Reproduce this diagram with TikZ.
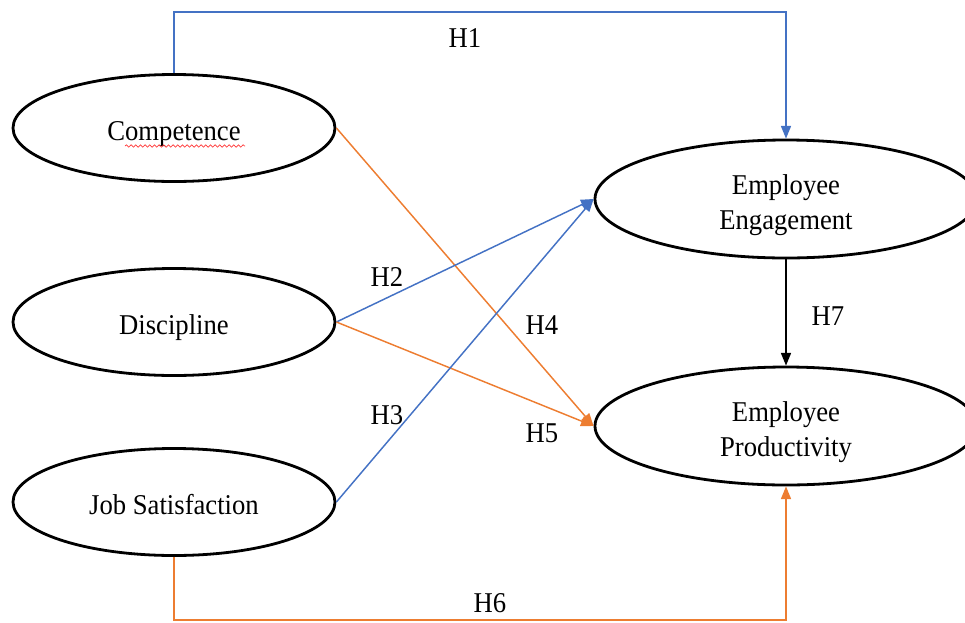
\documentclass[tikz,border=0pt]{standalone}
\usepackage{fontspec}
\setmainfont{Liberation Serif}[FakeStretch=0.93]
\usetikzlibrary{arrows.meta,shapes.geometric,decorations.pathmorphing}
\definecolor{myblue}{HTML}{4472C4}
\definecolor{myorange}{HTML}{ED7D31}
\begin{document}
\begin{tikzpicture}[x=0.75pt,y=-0.75pt,
  latent/.style={ellipse,draw,line width=2.1pt,inner sep=0pt,align=center,
    font=\fontsize{21.5}{26.25}\selectfont},
  leftvar/.style={latent,minimum width=241.5pt,minimum height=80.25pt,
    text height=18pt,text depth=0pt},
  rightvar/.style={latent,minimum width=286.5pt,minimum height=88.5pt,
    text height=45pt,text depth=0pt},
  lbl/.style={font=\fontsize{21.5}{24}\selectfont,inner sep=0pt},
  hyp/.style={line width=1.1pt,-{Triangle[length=9.5pt,width=7.5pt]}}
]
\clip (0,0) rectangle (965,622);
\node[leftvar] (comp) at (174,128) {Competence};
\node[leftvar] (disc) at (174,322) {Discipline};
\node[leftvar] (js) at (174,502) {Job Satisfaction};
\node[rightvar] (eng) at (786,199) {Employee\\Engagement};
\node[rightvar] (prod) at (786,426) {Employee\\Productivity};

\coordinate (top) at (480,12);
\coordinate (bot) at (480,620);

\draw[hyp,myblue] (comp.north) |- (top) -| (eng.north);
\draw[hyp,myorange] (comp.east) -- (prod.west);
\draw[hyp,myblue] (disc.east) -- (eng.west);
\draw[hyp,myorange] (disc.east) -- (prod.west);
\draw[hyp,myblue] (js.east) -- (eng.west);
\draw[hyp,myorange] (js.south) |- (bot) -| (prod.south);
\draw[hyp,black] (eng.south) -- (prod.north);

\draw[red!80,line width=0.5pt,decorate,decoration={snake,amplitude=0.9pt,segment length=3.5pt}]
  (125,146) -- (245,146);

\node[lbl] (h1) at (465,38) {H1};
\node[lbl] (h2) at (387,277) {H2};
\node[lbl] (h3) at (387,415) {H3};
\node[lbl] (h4) at (542,325) {H4};
\node[lbl] (h5) at (542,433) {H5};
\node[lbl] (h6) at (490,603) {H6};
\node[lbl] (h7) at (828,316) {H7};
\end{tikzpicture}
\end{document}
